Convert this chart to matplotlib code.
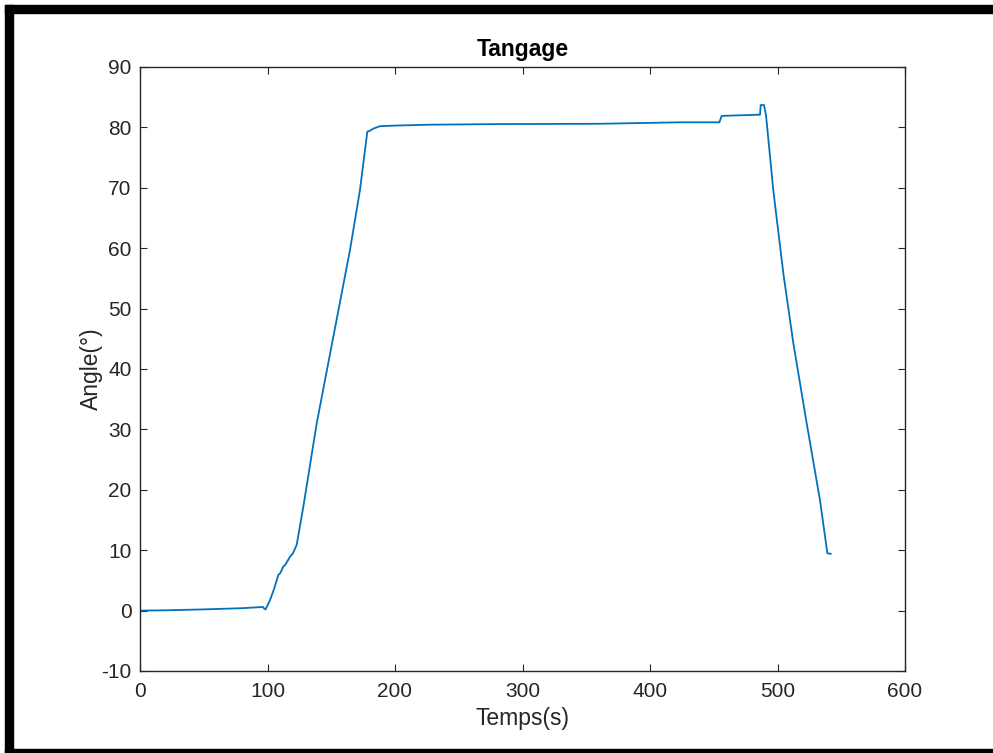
import matplotlib
matplotlib.use("Agg")
import matplotlib.pyplot as plt
from matplotlib.patches import Rectangle

plt.rcParams['font.family'] = ['Liberation Sans', 'DejaVu Sans']
plt.rcParams['axes.unicode_minus'] = False

time_s = [0, 20, 50, 80, 96.5, 97.5, 98.5, 102, 105, 108.5, 110, 112.4, 114, 117.6, 120,
          122.9, 128.1, 138.6, 151.6, 164.7, 172.5, 178.3, 180, 183, 188.2, 200, 227.5,
          282, 360, 423.5, 454.4, 456.2, 470, 484.9, 486.3, 486.8, 489.4, 491,
          496.7, 504.6, 512.4, 522.9, 533.3, 539.1, 541.7]
angle_deg = [0.0, 0.05, 0.2, 0.4, 0.6, 0.3, 0.2, 1.75, 3.5, 5.9, 6.2, 7.3, 7.6, 8.9, 9.5,
             10.9, 17.2, 31.0, 45.3, 59.7, 69.6, 79.3, 79.4, 79.8, 80.2, 80.3, 80.45,
             80.55, 80.6, 80.84, 80.84, 81.9, 82.0, 82.1, 82.1, 83.7, 83.7, 82.0,
             69.6, 55.8, 44.3, 31.0, 18.3, 9.5, 9.4]

title = "Tangage"
xlabel = "Temps(s)"
ylabel = "Angle(°)"
xticks = [0, 100, 200, 300, 400, 500, 600]
yticks = [-10, 0, 10, 20, 30, 40, 50, 60, 70, 80, 90]

W, H = 993, 753
fig = plt.figure(figsize=(W / 100, H / 100), dpi=100)
ax = fig.add_axes([140 / W, 1 - 671 / H, (905 - 140) / W, (671 - 67) / H])

ax.plot(time_s, angle_deg, color='#0072BD', lw=1.3)
ax.set_xlim(0, 600)
ax.set_ylim(-10, 90)
ax.set_xticks(xticks)
ax.set_yticks(yticks)
dark = '#262626'
for s in ax.spines.values():
    s.set_color(dark)
    s.set_linewidth(1.0)
ax.tick_params(direction='in', length=5, width=0.8, colors=dark, labelsize=15,
               top=True, right=True, pad=6)
ax.tick_params(axis='x', pad=8)
ax.set_title(title, fontsize=16.5, fontweight='bold', color='black', pad=8)
ax.set_xlabel(xlabel, fontsize=16.5, color=dark, labelpad=4)
ax.set_ylabel(ylabel, fontsize=16.5, color=dark, labelpad=-1)

# black frame around the screenshot
fig.patches.append(Rectangle((5 / W, 0), 8 / W, 1 - 5 / H, transform=fig.transFigure,
                             color='black', zorder=10))
fig.patches.append(Rectangle((5 / W, 1 - 13 / H), 1, 8 / H, transform=fig.transFigure,
                             color='black', zorder=10))
fig.patches.append(Rectangle((5 / W, 0), 1, 4 / H, transform=fig.transFigure,
                             color='black', zorder=10))

fig.savefig("out.png", dpi=100)
